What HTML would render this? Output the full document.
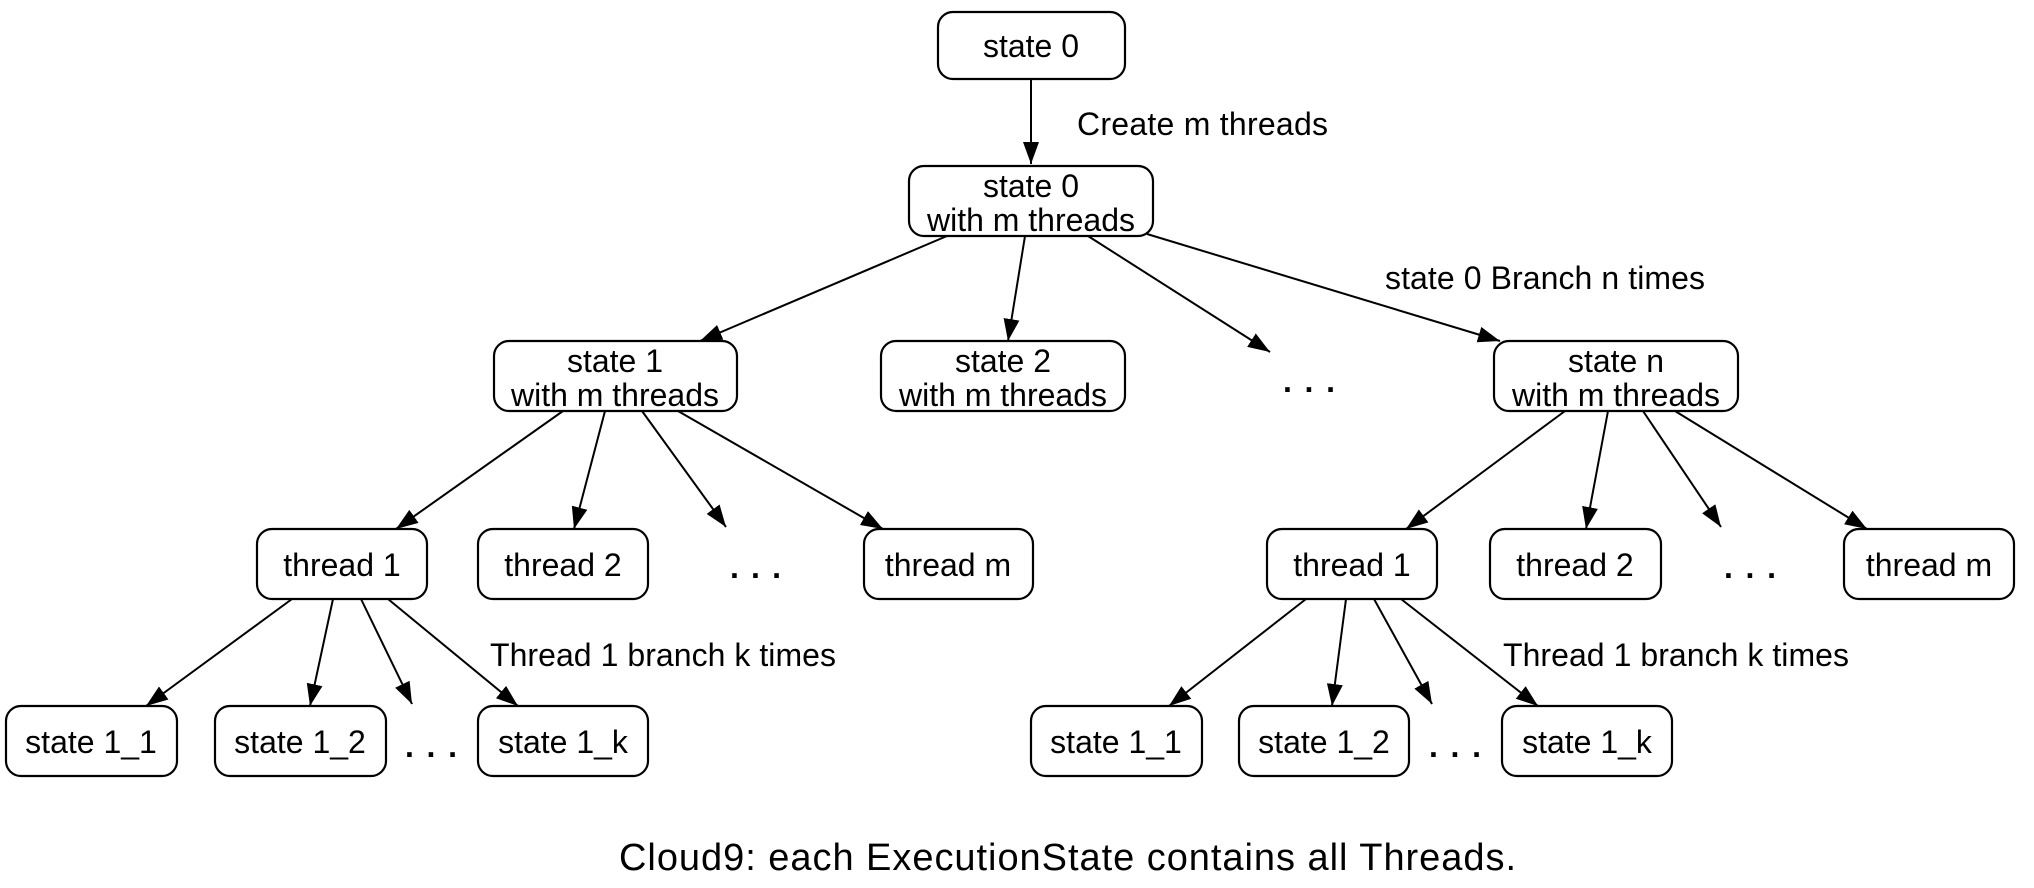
<!DOCTYPE html>
<html><head><meta charset="utf-8"><style>
html,body{margin:0;padding:0;background:#fff;}
svg{display:block;}
text{font-family:"Liberation Sans",Arial,sans-serif;fill:#000;}
.n{font-size:32px;text-anchor:middle;}
.l{font-size:32px;}
.d{font-size:32px;font-weight:bold;}
rect{fill:#fff;stroke:#000;stroke-width:2.2;}
line{stroke:#000;stroke-width:2;}
</style></head><body>
<svg width="2034" height="888" viewBox="0 0 2034 888" xmlns="http://www.w3.org/2000/svg">
<defs>
<marker id="a" markerUnits="userSpaceOnUse" markerWidth="24" markerHeight="16" refX="22" refY="8" orient="auto">
<path d="M0,0 L22,8 L0,16 z" fill="#000"/>
</marker>
</defs>
<g marker-end="url(#a)">
<line x1="1031" y1="79" x2="1031" y2="164"/>
<line x1="947" y1="236" x2="700" y2="341"/>
<line x1="1025" y1="236" x2="1008" y2="341"/>
<line x1="1088" y1="236" x2="1270" y2="352"/>
<line x1="1147" y1="234" x2="1500" y2="341"/>
<line x1="563" y1="411" x2="396" y2="529"/>
<line x1="605" y1="411" x2="574" y2="529"/>
<line x1="642" y1="411" x2="726" y2="527"/>
<line x1="678" y1="411" x2="883" y2="529"/>
<line x1="292" y1="599" x2="146" y2="706"/>
<line x1="333" y1="599" x2="310" y2="706"/>
<line x1="361" y1="599" x2="412" y2="704"/>
<line x1="388" y1="599" x2="518" y2="706"/>
<line x1="1565" y1="411" x2="1406" y2="529"/>
<line x1="1608" y1="411" x2="1586" y2="529"/>
<line x1="1643" y1="411" x2="1721" y2="527"/>
<line x1="1675" y1="411" x2="1867" y2="529"/>
<line x1="1306" y1="599" x2="1169" y2="706"/>
<line x1="1346" y1="599" x2="1332" y2="706"/>
<line x1="1374" y1="599" x2="1432" y2="704"/>
<line x1="1401" y1="599" x2="1538" y2="706"/>
</g>
<rect x="938" y="12" width="187" height="67" rx="15"/>
<text class="n" x="1031" y="57">state 0</text>
<rect x="909" y="166" width="244" height="70" rx="15"/>
<text class="n" x="1031" y="197">state 0</text>
<text class="n" x="1031" y="231" textLength="208">with m threads</text>
<rect x="494" y="341" width="243" height="70" rx="15"/>
<text class="n" x="615" y="372">state 1</text>
<text class="n" x="615" y="406" textLength="208">with m threads</text>
<rect x="881" y="341" width="244" height="70" rx="15"/>
<text class="n" x="1003" y="372">state 2</text>
<text class="n" x="1003" y="406" textLength="208">with m threads</text>
<text class="d" x="1283" y="392" textLength="52">. . .</text>
<rect x="1494" y="341" width="244" height="70" rx="15"/>
<text class="n" x="1616" y="372">state n</text>
<text class="n" x="1616" y="406" textLength="208">with m threads</text>
<text class="l" x="1077" y="135" textLength="251">Create m threads</text>
<text class="l" x="1385" y="289" textLength="320">state 0 Branch n times</text>
<rect x="257" y="529" width="170" height="70" rx="15"/>
<text class="n" x="342" y="576">thread 1</text>
<rect x="478" y="529" width="170" height="70" rx="15"/>
<text class="n" x="563" y="576">thread 2</text>
<text class="d" x="730" y="578" textLength="51">. . .</text>
<rect x="864" y="529" width="169" height="70" rx="15"/>
<text class="n" x="948" y="576">thread m</text>
<rect x="6" y="706" width="171" height="70" rx="15"/>
<text class="n" x="91" y="753">state 1_1</text>
<rect x="215" y="706" width="171" height="70" rx="15"/>
<text class="n" x="300" y="753">state 1_2</text>
<text class="d" x="405" y="757" textLength="52">. . .</text>
<rect x="478" y="706" width="170" height="70" rx="15"/>
<text class="n" x="563" y="753">state 1_k</text>
<text class="l" x="490" y="666" textLength="346">Thread 1 branch k times</text>
<rect x="1267" y="529" width="170" height="70" rx="15"/>
<text class="n" x="1352" y="576">thread 1</text>
<rect x="1490" y="529" width="171" height="70" rx="15"/>
<text class="n" x="1575" y="576">thread 2</text>
<text class="d" x="1724" y="578" textLength="52">. . .</text>
<rect x="1844" y="529" width="170" height="70" rx="15"/>
<text class="n" x="1929" y="576">thread m</text>
<rect x="1031" y="706" width="171" height="70" rx="15"/>
<text class="n" x="1116" y="753">state 1_1</text>
<rect x="1239" y="706" width="170" height="70" rx="15"/>
<text class="n" x="1324" y="753">state 1_2</text>
<text class="d" x="1429" y="757" textLength="52">. . .</text>
<rect x="1502" y="706" width="170" height="70" rx="15"/>
<text class="n" x="1587" y="753">state 1_k</text>
<text class="l" x="1503" y="666" textLength="346">Thread 1 branch k times</text>
<text x="619" y="870" style="font-size:38px" textLength="897">Cloud9: each ExecutionState contains all Threads.</text>
</svg>
</body></html>
